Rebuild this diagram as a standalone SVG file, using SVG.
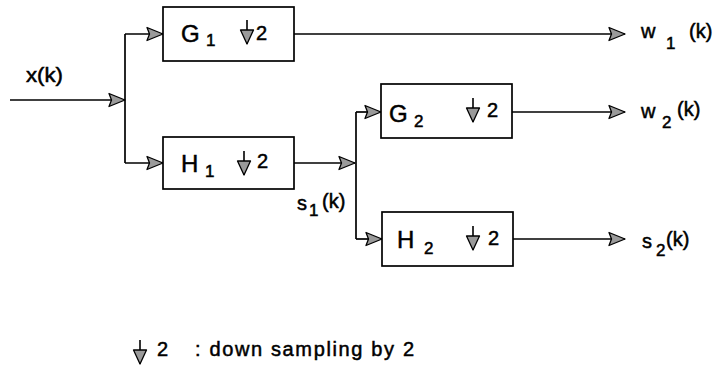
<svg xmlns="http://www.w3.org/2000/svg" xmlns:xlink="http://www.w3.org/1999/xlink" width="718" height="373" viewBox="0 0 718 373">
<style>
  .box { fill: #fff; stroke: #000; stroke-width: 1.7; }
  .ln { fill: none; stroke: #000; stroke-width: 1.7; }
  text { font-family: "Liberation Sans", Arial, sans-serif; fill: #000; stroke: #000; stroke-width: 0.5; }
  .big { font-size: 24px; }
  .sub { font-size: 17px; }
  .num { font-size: 20px; }
  .lbl { font-size: 20px; }
</style>
<defs>
  <marker id="arr" markerUnits="userSpaceOnUse" markerWidth="18" markerHeight="14" refX="16" refY="6.5" orient="auto" overflow="visible">
    <path d="M0,0 L16,6.5 L0,13 L2.5,6.5 Z" fill="#9a9a9a" stroke="#000" stroke-width="1.3" stroke-linejoin="round"/>
  </marker>
  <g id="ds">
    <path d="M0,0 V24" stroke="#000" stroke-width="1.6" fill="none"/>
    <path d="M-6.5,10 H6.5 L0,24 Z" fill="#9a9a9a" stroke="#000" stroke-width="1.3" stroke-linejoin="round"/>
  </g>
</defs>

<g id="connectors">
  <path class="ln" d="M10,100 H125" marker-end="url(#arr)"/>
  <path class="ln" d="M125,34 V163"/>
  <path class="ln" d="M125,34 H163" marker-end="url(#arr)"/>
  <path class="ln" d="M125,163 H163" marker-end="url(#arr)"/>
  <path class="ln" d="M294,34 H625" marker-end="url(#arr)"/>
  <path class="ln" d="M294,163 H355" marker-end="url(#arr)"/>
  <path class="ln" d="M356,112 V239"/>
  <path class="ln" d="M356,112 H381" marker-end="url(#arr)"/>
  <path class="ln" d="M356,239 H382" marker-end="url(#arr)"/>
  <path class="ln" d="M512,112 H625" marker-end="url(#arr)"/>
  <path class="ln" d="M513,239 H625" marker-end="url(#arr)"/>
</g>

<g id="G1">
  <rect class="box" x="163" y="7" width="131" height="54"/>
  <text class="big" x="181" y="42">G</text>
  <text class="sub" x="206" y="46">1</text>
  <use xlink:href="#ds" href="#ds" transform="translate(247,20)"/>
  <text class="num" x="256" y="40">2</text>
</g>

<g id="H1">
  <rect class="box" x="163" y="137" width="131" height="52"/>
  <text class="big" x="181" y="172">H</text>
  <text class="sub" x="205" y="177">1</text>
  <use xlink:href="#ds" href="#ds" transform="translate(244,151)"/>
  <text class="num" x="257" y="168">2</text>
</g>

<g id="G2">
  <rect class="box" x="381" y="84" width="131" height="54"/>
  <text class="big" x="389" y="122">G</text>
  <text class="sub" x="414" y="127">2</text>
  <use xlink:href="#ds" href="#ds" transform="translate(473,98)"/>
  <text class="num" x="487" y="117">2</text>
</g>

<g id="H2">
  <rect class="box" x="382" y="212" width="131" height="54"/>
  <text class="big" x="397" y="248">H</text>
  <text class="sub" x="424" y="254">2</text>
  <use xlink:href="#ds" href="#ds" transform="translate(473,226)"/>
  <text class="num" x="488" y="245">2</text>
</g>

<g id="labels">
  <text class="lbl" x="26" y="82" textLength="37" lengthAdjust="spacingAndGlyphs">x(k)</text>
  <text class="lbl" x="641" y="38">w</text>
  <text class="sub" x="666" y="49">1</text>
  <text class="lbl" x="689" y="38">(k)</text>
  <text class="lbl" x="641" y="118">w</text>
  <text class="sub" x="662" y="128">2</text>
  <text class="lbl" x="677" y="116">(k)</text>
  <text class="lbl" x="642" y="248">s</text>
  <text class="sub" x="656" y="256">2</text>
  <text class="lbl" x="666" y="246">(k)</text>
  <text class="lbl" x="297" y="210">s</text>
  <text class="sub" x="309" y="216">1</text>
  <text class="lbl" x="322" y="208">(k)</text>
</g>

<g id="legend">
  <use xlink:href="#ds" href="#ds" transform="translate(140,340)"/>
  <text class="num" x="157" y="356">2</text>
  <text class="lbl" x="195" y="356" textLength="219" lengthAdjust="spacing">: down sampling by 2</text>
</g>
</svg>
